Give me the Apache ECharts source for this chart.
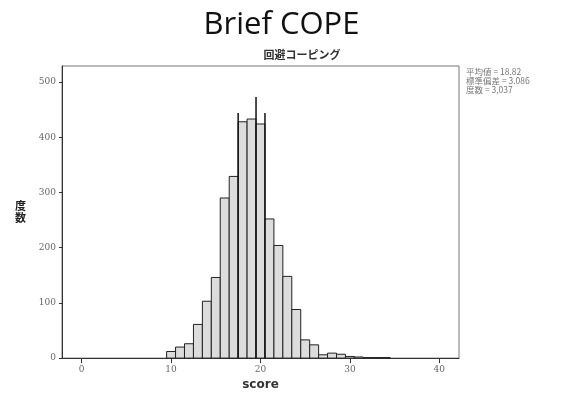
<!DOCTYPE html>
<html><head><meta charset="utf-8">
<script src="https://cdn.jsdelivr.net/npm/echarts@6/dist/echarts.min.js"></script>
<style>html,body{margin:0;padding:0;background:#fff}#c{width:563px;height:396px}</style>
</head><body><div id="c"></div>
<script>
// scores (bin centers) and counts
const scores = [10,11,12,13,14,15,16,17,18,19,20,21,22,23,24,25,26,27,28,29,30,31,32,33,34];
const counts = [12,20,26,61,103,146,290,329,428,433,424,252,204,148,88,33,24,6,9,7,3,2,1,1,1];
// vertical marker lines
const lineX = [17.5,19.5,20.5];
const lineTop = [444,473,444];
const xTicks = [0,10,20,30,40];
const yTicks = [0,100,200,300,400,500];
const statLines = ['平均値 = 18.82','標準偏差 = 3.086','度数 = 3,037'];

const chart = echarts.init(document.getElementById('c'));
const labelFont = {color:'#666', fontSize:9, fontFamily:'DejaVu Serif'};
chart.setOption({
  animation:false,
  backgroundColor:'#fff',
  title:[
    {text:'Brief COPE', left:'center', top:5, textStyle:{fontSize:31, fontWeight:'normal', color:'#111', fontFamily:'Open Sans'}},
    {text:'回避コーピング', left:297, top:44, textAlign:'center', textStyle:{fontSize:11, fontWeight:'bold', color:'#333', fontFamily:'Noto Sans CJK JP'}}
  ],
  graphic:[{type:'text', left:466, top:67, style:{text:statLines.join('\n'), fontSize:8.5, lineHeight:9, fill:'#777', fontFamily:'Noto Sans CJK JP'}}],
  grid:{left:62, top:66, right:104, bottom:36, show:true, borderColor:'#777', borderWidth:1},
  xAxis:{type:'value', min:-2.2, max:42.2, splitLine:{show:false},
    name:'score', nameLocation:'middle', nameGap:19, nameTextStyle:{fontSize:12, fontWeight:'bold', color:'#333', fontFamily:'DejaVu Sans'},
    axisLine:{show:true, onZero:false, lineStyle:{color:'#333'}},
    axisTick:{show:true, length:5, lineStyle:{color:'#333'}, customValues:xTicks},
    axisLabel:{...labelFont, margin:7, customValues:xTicks}},
  yAxis:{type:'value', min:0, max:529, splitLine:{show:false},
    name:'度\n数', nameLocation:'middle', nameRotate:0, nameGap:36, nameTextStyle:{fontSize:11, fontWeight:'bold', color:'#222', fontFamily:'Noto Sans CJK JP', lineHeight:12},
    axisLine:{show:true, onZero:false, lineStyle:{color:'#333'}},
    axisTick:{show:true, length:3, lineStyle:{color:'#333'}, customValues:yTicks},
    axisLabel:{...labelFont, margin:6, customValues:yTicks}},
  series:[
    {type:'custom', data:scores.map((s,i)=>[s,counts[i]]),
     renderItem:function(params, api){
       const x = api.value(0), v = api.value(1);
       const p0 = api.coord([x-0.5, v]);
       const p1 = api.coord([x+0.5, 0]);
       return {type:'rect', shape:{x:p0[0], y:p0[1], width:p1[0]-p0[0], height:p1[1]-p0[1]},
         style:{fill:'#dcdcdc', stroke:'#222', lineWidth:1}};
     }},
    {type:'custom', data:lineX.map((x,i)=>[x,lineTop[i]]),
     renderItem:function(params, api){
       const a = api.coord([api.value(0), api.value(1)]);
       const b = api.coord([api.value(0), 0]);
       return {type:'line', shape:{x1:a[0], y1:a[1], x2:b[0], y2:b[1]}, style:{stroke:'#111', lineWidth:1.5}};
     }}
  ]
});
</script></body></html>
